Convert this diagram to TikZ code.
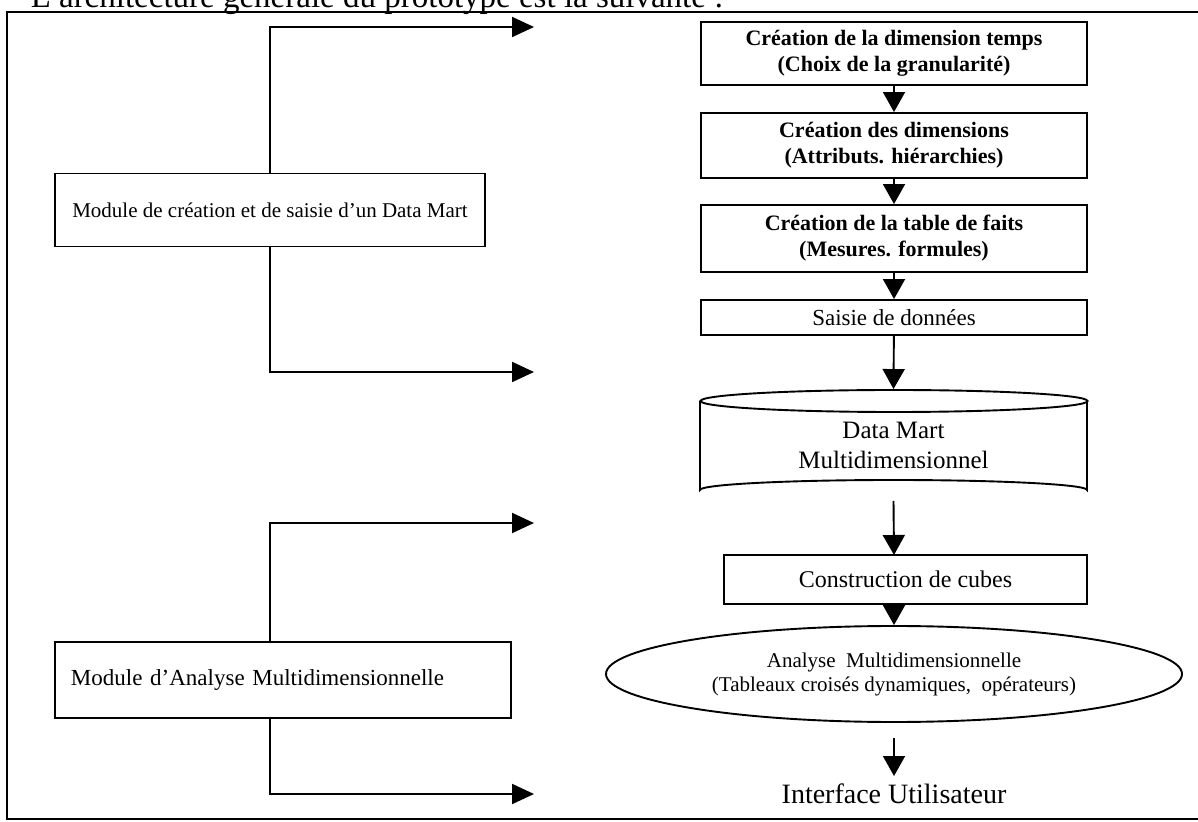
\documentclass[tikz,border=0pt]{standalone}
\usepackage{fontspec}
\setmainfont{Liberation Serif}
\usetikzlibrary{arrows.meta,shapes.geometric}

\begin{document}
\begin{tikzpicture}[x=0.5pt,y=-0.5pt,
  line width=0.95pt,
  flow/.style={-{Triangle[length=10pt,width=11pt]}},
  feed/.style={-{Triangle[length=11pt,width=10pt]}},
  stepbox/.style={draw, rectangle, inner sep=0pt, align=center,
    font=\fontsize{11}{13}\selectfont\bfseries},
  plainbox/.style={draw, rectangle, inner sep=0pt, align=center,
    font=\fontsize{11.5}{13}\selectfont},
  modbox/.style={draw, rectangle, inner sep=0pt}
]
\useasboundingbox (0,0) rectangle (1198,822);

% heading line, mostly above the page top
\begin{scope}
\clip (0,0) rectangle (1198,822);
\node[overlay, anchor=base west, inner sep=0pt, font=\fontsize{16.5}{18}\selectfont]
  (title) at (30,8) {L'architecture générale du prototype est la suivante :};
\end{scope}

% outer frame
\draw (1199,12) -- (7,12) -- (7,819) -- (1199,819);

% right column: processing chain
\node[stepbox, minimum width=193pt, minimum height=31.5pt] (tps) at (894,53.5)
  {Création de la dimension temps\\(Choix de la granularité)};
\node[stepbox, minimum width=193pt, minimum height=32.5pt] (dims) at (894,145.5)
  {Création des dimensions\\(Attributs. hiérarchies)};
\node[stepbox, minimum width=193pt, minimum height=33.5pt] (faits) at (894,238.5)
  {Création de la table de faits\\(Mesures. formules)};
\node[plainbox, minimum width=193pt, minimum height=17.5pt] (saisie) at (894,317.5)
  {Saisie de données};

% data mart store (cylinder)
\node[rectangle, inner sep=0pt, minimum width=193.5pt, minimum height=55pt,
  align=center, font=\fontsize{12.5}{15}\selectfont] (dm) at (893.5,445)
  {Data Mart\\Multidimensionnel};
\draw (894,401) ellipse [x radius=193.5, y radius=11];
\draw (700,401) -- (700,490) arc[start angle=180, end angle=360,
  x radius=193.5, y radius=10] -- (1087,401);

\node[plainbox, minimum width=181.5pt, minimum height=24.5pt,
  font=\fontsize{12}{14}\selectfont] (cubes) at (905.5,579.5)
  {Construction de cubes};
\node[ellipse, draw, inner sep=0pt, minimum width=288pt, minimum height=48pt,
  align=center, font=\fontsize{10.5}{12}\selectfont] (analyse) at (894,674)
  {Analyse\ \ Multidimensionnelle\\(Tableaux croisés dynamiques,\ \ opérateurs)};
\node[inner sep=0pt, font=\fontsize{14}{16}\selectfont] (ui) at (894,794)
  {Interface Utilisateur};

\coordinate (uistart) at (894,738);
\coordinate (uiend) at (894,776);

\draw[flow] (tps) -- (dims);
\draw[flow] (dims) -- (faits);
\draw[flow] (faits) -- (saisie);
\draw[flow] (saisie) -- (dm.north);
\draw[flow] (dm.south) -- (894,555);
\draw[flow] (894,604) -- (analyse.north);
\draw[flow] (uistart) -- (uiend);

% left column: modules
\node[modbox, minimum width=215pt, minimum height=36.5pt,
  font=\fontsize{10.5}{13}\selectfont] (mod1) at (270,210)
  {Module de création et de saisie d'un Data Mart};
\node[modbox, minimum width=228pt, minimum height=38pt, text width=222pt,
  align=left, font=\fontsize{11.5}{13}\selectfont] (mod2) at (283,680)
  {\hspace*{5pt}Module d'Analyse Multidimensionnelle};

\coordinate (m1top) at (534,27);
\coordinate (m1bot) at (534,372);
\coordinate (m2top) at (534,523);
\coordinate (m2bot) at (534,794);

\draw[feed] (mod1.north -| 270,0) |- (m1top);
\draw[feed] (mod1.south -| 270,0) |- (m1bot);
\draw[feed] (mod2.north -| 270,0) |- (m2top);
\draw[feed] (mod2.south -| 270,0) |- (m2bot);
\end{tikzpicture}
\end{document}
